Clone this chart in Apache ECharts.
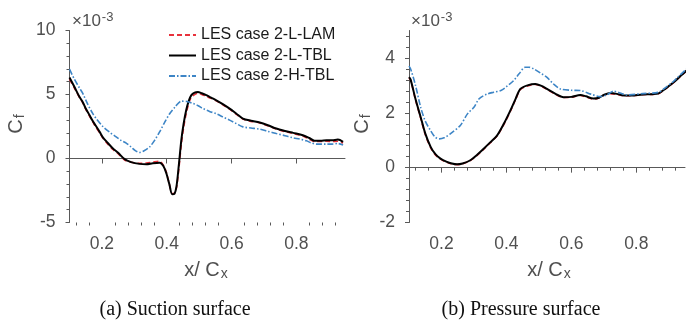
<!DOCTYPE html>
<html>
<head>
<meta charset="utf-8">
<script src="https://cdn.jsdelivr.net/npm/echarts@6/dist/echarts.min.js"></script>
<style>html,body{margin:0;padding:0;background:#fff}#c{width:686px;height:322px}</style>
</head>
<body>
<div id="c"></div>
<script>
// ---- Data: suction surface (a) ----
const sucX_LTBL = [0.100,0.115,0.131,0.141,0.150,0.162,0.170,0.180,0.193,0.203,0.215,0.234,0.250,0.270,0.290,0.316,0.337,0.357,0.378,0.390,0.399,0.408,0.417,0.424,0.430,0.437,0.445,0.452,0.460,0.468,0.476,0.486,0.496,0.508,0.522,0.537,0.553,0.573,0.594,0.615,0.635,0.660,0.687,0.712,0.738,0.765,0.790,0.820,0.840,0.856,0.875,0.893,0.910,0.928,0.944];
const sucY_LTBL = [6.33,5.6,4.8,4.4,3.9,3.38,3.0,2.6,2.08,1.65,1.3,0.78,0.45,-0.05,-0.28,-0.42,-0.45,-0.38,-0.34,-0.6,-1.17,-2.0,-2.8,-2.75,-2.2,-0.6,1.43,2.7,3.77,4.5,4.95,5.15,5.2,5.1,4.95,4.75,4.55,4.25,3.9,3.5,3.12,2.95,2.81,2.6,2.34,2.15,2.0,1.82,1.6,1.38,1.38,1.43,1.42,1.48,1.3];
const sucX_LLAM = sucX_LTBL;
const sucY_LLAM = [6.2,5.5,4.75,4.35,3.85,3.3,2.95,2.5,2.0,1.6,1.22,0.7,0.38,-0.12,-0.3,-0.38,-0.35,-0.28,-0.22,-0.55,-1.1,-2.0,-2.75,-2.7,-2.3,-0.9,1.1,2.4,3.5,4.3,4.8,5.0,5.1,5.0,4.85,4.7,4.5,4.2,3.85,3.45,3.08,2.9,2.78,2.55,2.3,2.1,1.95,1.75,1.5,1.32,1.33,1.35,1.32,1.35,1.2];
const sucX_HTBL = [0.100,0.115,0.131,0.141,0.155,0.172,0.183,0.203,0.224,0.244,0.260,0.275,0.290,0.303,0.316,0.330,0.347,0.362,0.378,0.393,0.409,0.425,0.445,0.462,0.481,0.497,0.512,0.532,0.553,0.573,0.594,0.615,0.635,0.660,0.687,0.712,0.738,0.765,0.790,0.810,0.831,0.846,0.862,0.893,0.910,0.928,0.944];
const sucY_HTBL = [6.98,6.2,5.5,5.08,4.3,3.5,3.1,2.5,2.05,1.69,1.4,1.2,0.9,0.62,0.47,0.6,0.9,1.4,2.08,2.8,3.5,4.0,4.48,4.45,4.3,4.12,3.9,3.68,3.5,3.25,3.0,2.72,2.47,2.38,2.29,2.12,1.95,1.78,1.61,1.52,1.38,1.22,1.12,1.12,1.12,1.17,1.05];

// ---- Data: pressure surface (b) ----
const preX_LTBL = [0.100,0.105,0.120,0.136,0.150,0.167,0.182,0.197,0.215,0.232,0.248,0.265,0.289,0.310,0.330,0.350,0.371,0.392,0.412,0.428,0.443,0.465,0.489,0.508,0.525,0.550,0.576,0.600,0.628,0.645,0.668,0.685,0.700,0.720,0.740,0.762,0.782,0.820,0.850,0.869,0.890,0.915,0.935,0.955];
const preY_LTBL = [3.3,3.21,2.5,1.84,1.25,0.75,0.48,0.33,0.22,0.15,0.12,0.15,0.27,0.47,0.69,0.92,1.17,1.6,2.08,2.5,2.87,3.0,3.05,2.98,2.87,2.7,2.57,2.58,2.65,2.6,2.52,2.55,2.65,2.72,2.69,2.63,2.63,2.67,2.68,2.71,2.88,3.11,3.33,3.54];
const preX_LLAM = preX_LTBL;
const preY_LLAM = [3.28,3.19,2.47,1.8,1.21,0.72,0.45,0.31,0.2,0.13,0.11,0.14,0.26,0.45,0.67,0.9,1.15,1.57,2.05,2.47,2.84,2.98,3.03,2.96,2.85,2.68,2.56,2.57,2.63,2.58,2.5,2.54,2.64,2.7,2.67,2.62,2.62,2.66,2.67,2.7,2.87,3.1,3.32,3.53];
const preX_HTBL = [0.100,0.105,0.120,0.136,0.150,0.166,0.180,0.193,0.210,0.228,0.258,0.280,0.300,0.316,0.340,0.361,0.383,0.400,0.422,0.439,0.458,0.470,0.484,0.505,0.525,0.545,0.566,0.600,0.628,0.660,0.689,0.710,0.730,0.750,0.771,0.820,0.869,0.890,0.915,0.935,0.955];
const preY_HTBL = [3.7,3.6,3.0,2.2,1.7,1.36,1.12,1.05,1.1,1.24,1.54,1.96,2.2,2.51,2.68,2.75,2.81,2.95,3.17,3.42,3.66,3.66,3.6,3.45,3.29,3.05,2.87,2.82,2.81,2.68,2.59,2.66,2.79,2.72,2.65,2.7,2.75,2.92,3.15,3.38,3.6];

// ---- Tick definitions ----
const xMajorTicks = [0.2, 0.4, 0.6, 0.8];
const xMinorTicks = [0.12,0.16,0.24,0.28,0.32,0.36,0.44,0.48,0.52,0.56,0.64,0.68,0.72,0.76,0.84,0.88,0.92];
const preYMajorTicks = [-2, 0, 2, 4];
const preYMinorTicks = [-1.6,-1.2,-0.8,-0.4,0.4,0.8,1.2,1.6,2.4,2.8,3.2,3.6,4.4,4.8];
const legendNames = ['LES case 2-L-LAM', 'LES case 2-L-TBL', 'LES case 2-H-TBL'];

const zip = (xs, ys) => xs.map((x, i) => [x, ys[i]]);

const SANS = 'Liberation Sans, Arial, Helvetica, sans-serif';
const AXC = '#595959';
const LBC = '#505050';

const styles = [
  { color: '#e8323c', width: 1.6, type: [5, 3] },
  { color: '#000000', width: 2.0, type: 'solid' },
  { color: '#3d85c6', width: 1.6, type: [6, 2, 1.5, 2] }
];

function mkSeries(xi, yi, dataX, dataY, idx, name) {
  return {
    type: 'line', name: name, xAxisIndex: xi, yAxisIndex: yi,
    data: zip(dataX, dataY), showSymbol: false, symbol: 'none',
    smooth: 0.3, lineStyle: styles[idx], itemStyle: { color: styles[idx].color },
    animation: false, z: 2 + idx
  };
}

function majorX(gi) {
  return {
    type: 'value', gridIndex: gi, min: 0.1, max: 0.95, position: 'bottom',
    axisLine: { show: true, lineStyle: { color: AXC, width: 1 } },
    axisTick: { show: true, length: 5, customValues: xMajorTicks, lineStyle: { color: AXC } },
    axisLabel: { show: true, customValues: xMajorTicks, margin: 13, color: LBC, fontSize: 17.5, fontFamily: SANS,
                 formatter: v => v.toFixed(1) },
    splitLine: { show: false }
  };
}
function minorX(gi) {
  return {
    type: 'value', gridIndex: gi, min: 0.1, max: 0.95, position: 'bottom', offset: 0,
    axisLine: { show: false },
    axisTick: { show: true, length: 3, customValues: xMinorTicks, lineStyle: { color: AXC } },
    axisLabel: { show: false }, splitLine: { show: false }
  };
}

const option = {
  animation: false,
  grid: [
    { left: 69.5, top: 30.5, width: 275.5, height: 192 },
    { left: 409, top: 30.5, width: 276, height: 192 }
  ],
  xAxis: [majorX(0), majorX(1), minorX(0), minorX(1)],
  yAxis: [
    {
      type: 'value', gridIndex: 0, min: -5, max: 10, interval: 5,
      axisLine: { show: true, lineStyle: { color: AXC, width: 1 } },
      axisTick: { show: true, length: 4, lineStyle: { color: AXC } },
      minorTick: { show: true, splitNumber: 5, length: 3, lineStyle: { color: AXC } },
      axisLabel: { margin: 14, color: LBC, fontSize: 17.5, fontFamily: SANS },
      splitLine: { show: false }
    },
    {
      type: 'value', gridIndex: 1, min: -2, max: 5,
      axisLine: { show: true, lineStyle: { color: AXC, width: 1 } },
      axisTick: { show: true, length: 4, customValues: preYMajorTicks, lineStyle: { color: AXC } },
      axisLabel: { margin: 14, color: LBC, fontSize: 17.5, fontFamily: SANS, customValues: preYMajorTicks },
      splitLine: { show: false }
    },
    {
      type: 'value', gridIndex: 1, min: -2, max: 5, position: 'left', offset: 0,
      axisLine: { show: false },
      axisTick: { show: true, length: 3, customValues: preYMinorTicks, lineStyle: { color: AXC } },
      axisLabel: { show: false }, splitLine: { show: false }
    }
  ],
  legend: {
    data: legendNames, orient: 'vertical', left: 163, top: 20,
    itemWidth: 27, itemHeight: 14, itemGap: 0.5,
    itemStyle: { opacity: 0, borderWidth: 0 },
    textStyle: { fontSize: 16, fontFamily: SANS, color: '#1a1a1a', lineHeight: 20 },
    selectedMode: false
  },
  series: [
    mkSeries(0, 0, sucX_LLAM, sucY_LLAM, 0, legendNames[0]),
    mkSeries(0, 0, sucX_LTBL, sucY_LTBL, 1, legendNames[1]),
    mkSeries(0, 0, sucX_HTBL, sucY_HTBL, 2, legendNames[2]),
    mkSeries(1, 1, preX_LLAM, preY_LLAM, 0, legendNames[0]),
    mkSeries(1, 1, preX_LTBL, preY_LTBL, 1, legendNames[1]),
    mkSeries(1, 1, preX_HTBL, preY_HTBL, 2, legendNames[2])
  ],
  graphic: [
    { type: 'text', x: 72, y: 21, style: { text: '×10{s|-3}', fontSize: 17, fontFamily: SANS, fill: LBC, verticalAlign: 'middle',
      rich: { s: { fontSize: 13, fontFamily: SANS, fill: LBC, verticalAlign: 'top', padding: [0, 0, 8, 1] } } } },
    { type: 'text', x: 411, y: 21, style: { text: '×10{s|-3}', fontSize: 17, fontFamily: SANS, fill: LBC, verticalAlign: 'middle',
      rich: { s: { fontSize: 13, fontFamily: SANS, fill: LBC, verticalAlign: 'top', padding: [0, 0, 8, 1] } } } },
    { type: 'text', x: 206, y: 270, style: { text: 'x/ C{b|x}', fontSize: 20, fontFamily: SANS, fill: LBC, align: 'center', verticalAlign: 'middle',
      rich: { b: { fontSize: 14, fontFamily: SANS, fill: LBC, verticalAlign: 'bottom', padding: [8, 0, 0, 1] } } } },
    { type: 'text', x: 549, y: 270, style: { text: 'x/ C{b|x}', fontSize: 20, fontFamily: SANS, fill: LBC, align: 'center', verticalAlign: 'middle',
      rich: { b: { fontSize: 14, fontFamily: SANS, fill: LBC, verticalAlign: 'bottom', padding: [8, 0, 0, 1] } } } },
    { type: 'text', x: 16, y: 124, rotation: Math.PI / 2, style: { text: 'C{b|f}', fontSize: 20, fontFamily: SANS, fill: LBC, align: 'center', verticalAlign: 'middle',
      rich: { b: { fontSize: 14, fontFamily: SANS, fill: LBC, verticalAlign: 'bottom', padding: [8, 0, 0, 1] } } } },
    { type: 'text', x: 362, y: 124, rotation: Math.PI / 2, style: { text: 'C{b|f}', fontSize: 20, fontFamily: SANS, fill: LBC, align: 'center', verticalAlign: 'middle',
      rich: { b: { fontSize: 14, fontFamily: SANS, fill: LBC, verticalAlign: 'bottom', padding: [8, 0, 0, 1] } } } },
    { type: 'text', x: 175, y: 310, style: { text: '(a) Suction surface', fontSize: 20, fontFamily: 'Liberation Serif, Times New Roman, serif', fill: '#111', align: 'center', verticalAlign: 'middle' } },
    { type: 'text', x: 521, y: 310, style: { text: '(b) Pressure surface', fontSize: 20, fontFamily: 'Liberation Serif, Times New Roman, serif', fill: '#111', align: 'center', verticalAlign: 'middle' } }
  ]
};

const chart = echarts.init(document.getElementById('c'), null, { renderer: 'canvas' });
chart.setOption(option);
</script>
</body>
</html>
